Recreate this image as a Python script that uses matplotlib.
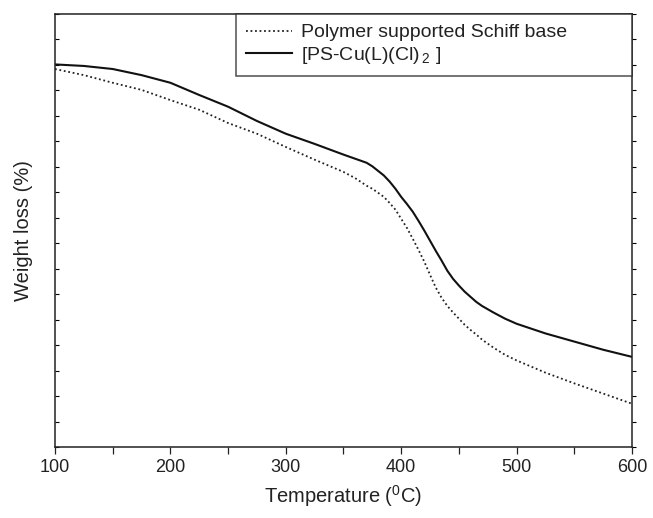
import matplotlib
matplotlib.use("Agg")
import matplotlib.pyplot as plt
from matplotlib.ticker import MultipleLocator

plt.rcParams['font.family'] = ['Liberation Sans', 'DejaVu Sans']
plt.rcParams['mathtext.fontset'] = 'custom'
plt.rcParams['mathtext.rm'] = 'Liberation Sans'

temperature = [100, 125, 150, 175, 200, 225, 250, 275, 300, 325, 350,
               360, 370, 375, 380, 385, 390, 395, 400, 405, 410, 415, 420, 425, 430,
               435, 440, 445, 450, 455, 460, 465, 470, 480, 490, 500,
               525, 550, 575, 600]
schiff_base = [89.2, 88.0, 86.5, 85.1, 83.1, 81.2, 78.6, 76.5, 73.9, 71.4, 69.0,
               67.8, 66.3, 65.7, 64.9, 64.1, 62.9, 61.6, 59.8, 58.0, 55.9, 53.7, 51.4, 48.8, 46.3,
               44.3, 42.7, 41.4, 40.2, 39.0, 38.0, 37.1, 36.1, 34.5, 33.1, 32.0,
               29.6, 27.5, 25.5, 23.5]
cu_complex = [90.1, 89.8, 89.2, 88.0, 86.5, 84.1, 81.8, 79.0, 76.5, 74.5, 72.4,
              71.6, 70.8, 70.1, 69.2, 68.3, 67.1, 65.7, 64.1, 62.7, 61.2, 59.4, 57.5, 55.5, 53.5,
              51.6, 49.6, 48.0, 46.7, 45.5, 44.5, 43.5, 42.7, 41.4, 40.2, 39.2,
              37.3, 35.7, 34.1, 32.7]
series_labels = ['Polymer supported Schiff base', r'[PS-Cu(L)(Cl)$_{\,2}$ ]']

fig = plt.figure(figsize=(6.53, 5.18), dpi=100)
ax = fig.add_axes([0.0842, 0.137, 0.8836, 0.836])

ax.plot(temperature, schiff_base, color='#222222', lw=1.3, linestyle=(0, (1, 1.5)),
        label=series_labels[0])
ax.plot(temperature, cu_complex, color='#111111', lw=1.5, linestyle='-',
        solid_joinstyle='round', label=series_labels[1])

ax.set_xlim(100, 600)
ax.set_ylim(15, 100)
ax.xaxis.set_major_locator(MultipleLocator(100))
ax.xaxis.set_minor_locator(MultipleLocator(50))
ax.yaxis.set_major_locator(MultipleLocator(5))
ax.set_yticklabels([])

ax.tick_params(axis='x', which='both', direction='out', length=5, width=0.9,
               labelsize=13, colors='#222222', top=False)
ax.tick_params(axis='y', which='both', direction='in', length=3, width=0.8,
               left=True, right=False)
sec = ax.secondary_yaxis('right')
sec.yaxis.set_major_locator(MultipleLocator(5))
sec.tick_params(direction='out', length=3, width=0.8, labelright=False)
sec.spines['right'].set_visible(False)

for s in ax.spines.values():
    s.set_linewidth(1.1)
    s.set_color('#222222')

ax.set_xlabel(r'Temperature ($^{0}$C)', fontsize=14.5, color='#222222', labelpad=5)
ax.set_ylabel('Weight loss (%)', fontsize=14.5, color='#222222', labelpad=12)

leg = ax.legend(loc='upper left', bbox_to_anchor=(0.3137, 0.857, 0.6863, 0.143),
                mode='expand', fontsize=14, frameon=True, fancybox=False,
                edgecolor='#222222', borderaxespad=0, handlelength=2.4,
                borderpad=0.5, labelspacing=0.2, handletextpad=0.45)
leg.get_frame().set_linewidth(1.1)
for t in leg.get_texts():
    t.set_color('#222222')

fig.savefig('out.png', dpi=100, facecolor='white')
